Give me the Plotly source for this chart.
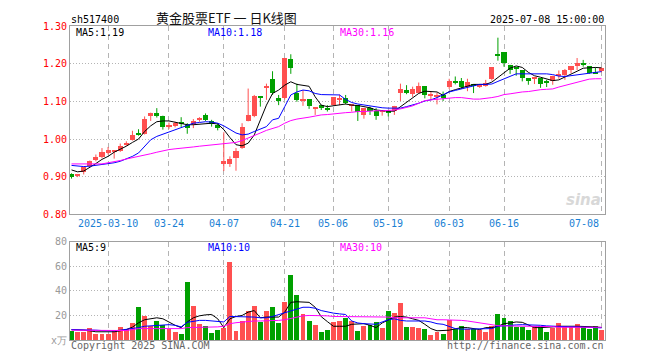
import plotly.graph_objects as go

# ---------------- data ----------------
dates = ["2025-02-28",
         "2025-03-03", "2025-03-04", "2025-03-05", "2025-03-06", "2025-03-07",
         "2025-03-10", "2025-03-11", "2025-03-12", "2025-03-13", "2025-03-14",
         "2025-03-17", "2025-03-18", "2025-03-19", "2025-03-20", "2025-03-21",
         "2025-03-24", "2025-03-25", "2025-03-26", "2025-03-27", "2025-03-28",
         "2025-03-31", "2025-04-01", "2025-04-02", "2025-04-03",
         "2025-04-07", "2025-04-08", "2025-04-09", "2025-04-10", "2025-04-11",
         "2025-04-14", "2025-04-15", "2025-04-16", "2025-04-17", "2025-04-18",
         "2025-04-21", "2025-04-22", "2025-04-23", "2025-04-24", "2025-04-25",
         "2025-04-28", "2025-04-29", "2025-04-30",
         "2025-05-06", "2025-05-07", "2025-05-08", "2025-05-09",
         "2025-05-12", "2025-05-13", "2025-05-14", "2025-05-15", "2025-05-16",
         "2025-05-19", "2025-05-20", "2025-05-21", "2025-05-22", "2025-05-23",
         "2025-05-26", "2025-05-27", "2025-05-28", "2025-05-29", "2025-05-30",
         "2025-06-03", "2025-06-04", "2025-06-05", "2025-06-06",
         "2025-06-09", "2025-06-10", "2025-06-11", "2025-06-12", "2025-06-13",
         "2025-06-16", "2025-06-17", "2025-06-18", "2025-06-19", "2025-06-20",
         "2025-06-23", "2025-06-24", "2025-06-25", "2025-06-26", "2025-06-27",
         "2025-06-30", "2025-07-01", "2025-07-02", "2025-07-03", "2025-07-04",
         "2025-07-07", "2025-07-08"]

open_ = [0.908, 0.902, 0.913, 0.928, 0.944, 0.952, 0.963, 0.967, 0.967, 0.986,
         0.997, 1.015, 1.013, 1.060, 1.070, 1.061, 1.032, 1.035, 1.043, 1.037,
         1.040, 1.051, 1.064, 1.048, 1.036, 0.934, 0.935, 0.950, 0.976, 1.049,
         1.061, 1.114, 1.136, 1.159, 1.108, 1.108, 1.213, 1.121, 1.101, 1.106,
         1.082, 1.090, 1.083, 1.090, 1.105, 1.108, 1.089, 1.090, 1.064, 1.082,
         1.075, 1.074, 1.074, 1.075, 1.121, 1.130, 1.119, 1.123, 1.140, 1.115,
         1.114, 1.118, 1.138, 1.154, 1.154, 1.138, 1.144, 1.138, 1.141, 1.160,
         1.225, 1.230, 1.197, 1.189, 1.182, 1.161, 1.160, 1.161, 1.154, 1.154,
         1.168, 1.170, 1.184, 1.194, 1.202, 1.193, 1.179, 1.180]
high = [0.909, 0.906, 0.925, 0.943, 0.959, 0.976, 0.979, 0.970, 0.988, 0.994,
        1.022, 1.026, 1.060, 1.070, 1.082, 1.062, 1.044, 1.046, 1.058, 1.042,
        1.053, 1.058, 1.068, 1.051, 1.042, 1.018, 0.954, 0.976, 1.042, 1.134,
        1.117, 1.114, 1.147, 1.180, 1.117, 1.215, 1.225, 1.147, 1.130, 1.106,
        1.085, 1.090, 1.090, 1.111, 1.118, 1.117, 1.092, 1.090, 1.082, 1.086,
        1.082, 1.077, 1.077, 1.088, 1.147, 1.143, 1.139, 1.150, 1.140, 1.125,
        1.123, 1.126, 1.160, 1.166, 1.162, 1.160, 1.144, 1.145, 1.157, 1.190,
        1.269, 1.230, 1.197, 1.192, 1.182, 1.161, 1.164, 1.161, 1.157, 1.168,
        1.182, 1.186, 1.194, 1.215, 1.210, 1.193, 1.190, 1.190]
low = [0.895, 0.899, 0.906, 0.925, 0.941, 0.949, 0.959, 0.948, 0.966, 0.982,
       0.996, 1.009, 1.012, 1.048, 1.057, 1.025, 1.027, 1.031, 1.032, 1.014,
       1.029, 1.046, 1.048, 1.033, 1.023, 0.915, 0.926, 0.916, 0.974, 1.047,
       1.058, 1.086, 1.104, 1.117, 1.090, 1.105, 1.173, 1.099, 1.088, 1.080,
       1.064, 1.077, 1.073, 1.089, 1.090, 1.092, 1.073, 1.048, 1.054, 1.064,
       1.051, 1.062, 1.060, 1.064, 1.101, 1.119, 1.112, 1.121, 1.108, 1.103,
       1.092, 1.101, 1.133, 1.145, 1.133, 1.127, 1.122, 1.136, 1.139, 1.155,
       1.208, 1.192, 1.173, 1.168, 1.153, 1.144, 1.146, 1.136, 1.138, 1.144,
       1.160, 1.157, 1.175, 1.183, 1.192, 1.173, 1.173, 1.177]
close = [0.900, 0.904, 0.925, 0.942, 0.952, 0.965, 0.970, 0.969, 0.982, 0.988,
         1.012, 1.013, 1.054, 1.069, 1.060, 1.032, 1.037, 1.042, 1.040, 1.029,
         1.049, 1.054, 1.050, 1.040, 1.029, 0.942, 0.948, 0.969, 1.032, 1.064,
         1.114, 1.111, 1.140, 1.121, 1.101, 1.215, 1.189, 1.104, 1.104, 1.089,
         1.085, 1.085, 1.077, 1.111, 1.108, 1.095, 1.092, 1.071, 1.082, 1.077,
         1.062, 1.077, 1.070, 1.088, 1.132, 1.123, 1.132, 1.140, 1.117, 1.118,
         1.117, 1.110, 1.153, 1.150, 1.138, 1.151, 1.141, 1.145, 1.150, 1.190,
         1.223, 1.202, 1.182, 1.186, 1.161, 1.153, 1.164, 1.146, 1.150, 1.166,
         1.170, 1.183, 1.194, 1.202, 1.199, 1.175, 1.175, 1.189]

ma5 = [0.918, 0.913, 0.915, 0.924, 0.935, 0.946, 0.954, 0.965, 0.972, 0.981,
       0.991, 1.000, 1.020, 1.035, 1.046, 1.048, 1.048, 1.045, 1.042, 1.038,
       1.038, 1.040, 1.042, 1.042, 1.040, 1.025, 1.004, 0.985, 0.982, 0.989,
       1.011, 1.051, 1.090, 1.121, 1.130, 1.143, 1.152, 1.145, 1.143, 1.140,
       1.112, 1.090, 1.086, 1.088, 1.092, 1.093, 1.090, 1.089, 1.086, 1.083,
       1.077, 1.075, 1.074, 1.074, 1.086, 1.099, 1.111, 1.121, 1.127, 1.125,
       1.125, 1.116, 1.126, 1.131, 1.136, 1.142, 1.145, 1.145, 1.145, 1.151,
       1.164, 1.177, 1.188, 1.194, 1.190, 1.177, 1.168, 1.164, 1.160, 1.155,
       1.157, 1.164, 1.171, 1.180, 1.188, 1.190, 1.190, 1.189]
ma10 = [0.930, 0.928, 0.927, 0.928, 0.930, 0.932, 0.935, 0.937, 0.941, 0.947,
        0.954, 0.963, 0.981, 0.998, 1.007, 1.013, 1.018, 1.025, 1.032, 1.038,
        1.042, 1.044, 1.046, 1.045, 1.042, 1.035, 1.025, 1.016, 1.011, 1.013,
        1.020, 1.026, 1.033, 1.051, 1.055, 1.086, 1.117, 1.125, 1.130, 1.128,
        1.121, 1.118, 1.118, 1.117, 1.117, 1.105, 1.097, 1.093, 1.090, 1.088,
        1.086, 1.083, 1.082, 1.082, 1.082, 1.086, 1.090, 1.095, 1.101, 1.104,
        1.110, 1.118, 1.125, 1.129, 1.133, 1.138, 1.142, 1.145, 1.145, 1.146,
        1.153, 1.160, 1.168, 1.173, 1.173, 1.173, 1.173, 1.173, 1.173, 1.171,
        1.167, 1.166, 1.168, 1.171, 1.173, 1.175, 1.176, 1.179]
ma30 = [0.934, 0.934, 0.934, 0.934, 0.934, 0.934, 0.937, 0.939, 0.943, 0.947,
        0.950, 0.953, 0.956, 0.961, 0.965, 0.969, 0.972, 0.974, 0.975, 0.977,
        0.979, 0.981, 0.983, 0.985, 0.987, 0.988, 0.989, 0.991, 0.996, 1.002,
        1.009, 1.016, 1.023, 1.029, 1.033, 1.042, 1.049, 1.053, 1.055, 1.058,
        1.061, 1.064, 1.065, 1.067, 1.068, 1.070, 1.071, 1.073, 1.073, 1.075,
        1.075, 1.075, 1.075, 1.077, 1.080, 1.083, 1.088, 1.095, 1.102, 1.104,
        1.106, 1.108, 1.109, 1.110, 1.110, 1.107, 1.106, 1.106, 1.107, 1.110,
        1.113, 1.118, 1.120, 1.123, 1.125, 1.126, 1.129, 1.131, 1.132, 1.133,
        1.138, 1.142, 1.146, 1.151, 1.155, 1.159, 1.160, 1.160]

volume = [7.5, 6.4, 6.4, 9.6, 5.1, 4.8, 4.8, 8.5, 10.4, 9.3,
          13.6, 27.2, 19.7, 11.7, 15.2, 12.0, 9.3, 6.4, 4.8, 47.2,
          28.0, 13.3, 11.2, 5.6, 8.5, 10.1, 64.0, 7.5, 15.2, 23.5,
          27.7, 14.7, 23.5, 26.7, 13.9, 30.7, 53.3, 36.8, 21.5, 16.0,
          12.0, 6.4, 8.0, 14.5, 15.2, 17.9, 15.2, 7.5, 11.2, 12.5,
          14.7, 10.1, 24.0, 21.9, 30.4, 10.7, 10.7, 9.6, 8.8, 4.0,
          6.4, 5.3, 16.5, 9.1, 11.5, 9.3, 9.1, 8.0, 6.9, 11.2,
          21.6, 17.9, 16.0, 10.4, 10.4, 8.3, 11.2, 11.5, 6.7, 10.1,
          14.1, 11.7, 10.7, 12.8, 11.2, 9.1, 11.2, 8.0]
vma5 = [8.5, 8.5, 8.0, 7.5, 6.7, 6.7, 6.7, 6.7, 7.5, 8.5,
        10.5, 14.0, 16.5, 17.5, 18.1, 17.3, 14.7, 12.0, 10.1, 14.7,
        18.1, 19.7, 20.5, 20.8, 17.3, 10.1, 17.3, 19.2, 20.0, 22.7,
        24.0, 18.1, 18.7, 18.7, 18.7, 22.7, 30.7, 31.2, 31.2, 30.7,
        26.7, 19.0, 15.0, 11.2, 11.2, 11.2, 12.8, 13.3, 13.3, 12.0,
        10.1, 13.9, 16.5, 18.7, 19.2, 18.7, 17.3, 16.0, 12.8, 9.3,
        7.5, 7.5, 8.0, 9.1, 10.1, 10.1, 9.3, 8.5, 10.1, 10.1,
        11.2, 13.3, 13.9, 14.7, 14.4, 12.0, 10.1, 10.1, 10.1, 10.7,
        11.2, 11.5, 11.2, 11.2, 11.2, 11.2, 10.7, 10.1]
vma10 = [8.5, 8.5, 8.3, 8.0, 8.0, 7.7, 7.5, 7.5, 8.0, 8.5,
         9.3, 10.1, 11.2, 11.5, 11.7, 12.0, 12.5, 12.0, 10.7, 14.4,
         15.5, 16.0, 16.0, 15.5, 15.2, 14.7, 19.2, 19.2, 19.2, 19.2,
         18.7, 18.1, 18.1, 19.2, 20.8, 21.9, 23.5, 25.3, 26.7, 26.7,
         25.9, 24.0, 22.7, 21.9, 21.3, 20.8, 15.5, 13.9, 13.3, 13.3,
         12.8, 14.7, 16.5, 17.3, 16.0, 15.5, 15.5, 15.5, 15.5, 14.7,
         13.3, 12.8, 11.2, 9.3, 8.8, 8.8, 8.8, 8.8, 8.8, 9.3,
         11.2, 11.7, 12.0, 12.3, 12.5, 12.5, 12.5, 12.0, 11.5, 11.2,
         10.7, 10.7, 10.7, 10.7, 10.7, 10.4, 10.1, 9.9]
vma30 = [8.0, 8.0, 8.0, 8.0, 7.7, 7.7, 7.7, 7.7, 7.7, 7.7,
         8.5, 9.3, 9.3, 9.3, 9.3, 9.3, 9.3, 9.3, 9.3, 10.1,
         10.1, 10.1, 10.1, 10.1, 10.7, 11.2, 13.3, 14.1, 14.7, 15.2,
         15.5, 15.5, 15.5, 15.7, 16.0, 16.5, 17.6, 18.7, 19.7, 20.0,
         20.0, 20.0, 19.7, 19.2, 19.2, 19.2, 19.2, 19.2, 19.2, 19.2,
         19.2, 19.2, 18.7, 18.1, 18.1, 18.1, 18.1, 18.1, 18.1, 17.3,
         16.5, 16.5, 16.5, 16.5, 16.0, 15.5, 14.7, 13.9, 12.8, 12.0,
         11.7, 11.5, 11.5, 11.5, 11.5, 11.5, 11.5, 11.5, 11.5, 10.9,
         10.4, 10.4, 10.4, 10.4, 10.4, 10.4, 10.4, 10.4]

tick_dates = ["2025-03-10", "2025-03-24", "2025-04-07", "2025-04-21", "2025-05-06",
              "2025-05-19", "2025-06-03", "2025-06-16", "2025-07-08"]
tick_labels = ["2025-03-10", "03-24", "04-07", "04-21", "05-06",
               "05-19", "06-03", "06-16", "07-08"]
price_ticks = [0.80, 0.90, 1.00, 1.10, 1.20, 1.30]
vol_ticks = [0, 20, 40, 60, 80]
vol_tick_text = ["x万", "20", "40", "60", "80"]

title_code = "sh517400"
title_name = "黄金股票ETF 一 日K线图"
title_time = "2025-07-08 15:00:00"
price_legend = ["MA5:1.19", "MA10:1.18", "MA30:1.16"]
vol_legend = ["MA5:9", "MA10:10", "MA30:10"]
footer_left = "Copyright 2025 SINA.COM"
footer_right = "http://finance.sina.com.cn"

# ---------------- styling ----------------
RED = "#ff5050"
GREEN = "#00a000"
MONO = "DejaVu Sans Mono"
GRID = "#b4b4b4"
BORDER = "#a0a0a0"
ma_colors = ["#000000", "#0000ff", "#ff00ff"]

n = len(dates)
idx = list(range(n))
up = [c >= o for o, c in zip(open_, close)]
colors = [RED if u else GREEN for u in up]
body_base = [min(o, c) for o, c in zip(open_, close)]
body_h = [max(abs(c - o), 0.0027) for o, c in zip(open_, close)]

fig = go.Figure()

# wicks
for flag, col in ((True, RED), (False, GREEN)):
    wx, wy = [], []
    for i in idx:
        if up[i] == flag:
            wx += [i, i, None]
            wy += [low[i], high[i], None]
    fig.add_trace(go.Scatter(x=wx, y=wy, mode="lines", line=dict(color=col, width=1),
                             hoverinfo="skip", showlegend=False, xaxis="x", yaxis="y"))

# bodies
fig.add_trace(go.Bar(x=idx, y=body_h, base=body_base, width=0.83,
                     marker=dict(color=colors, line=dict(width=0)),
                     showlegend=False, xaxis="x", yaxis="y"))

# price MAs
for arr, col in zip((ma5, ma10, ma30), ma_colors):
    fig.add_trace(go.Scatter(x=idx, y=arr, mode="lines", line=dict(color=col, width=1),
                             showlegend=False, xaxis="x", yaxis="y"))

# volume
fig.add_trace(go.Bar(x=idx, y=volume, width=0.8,
                     marker=dict(color=colors, line=dict(width=0)),
                     showlegend=False, xaxis="x2", yaxis="y2"))
for arr, col in zip((vma5, vma10, vma30), ma_colors):
    fig.add_trace(go.Scatter(x=idx, y=arr, mode="lines", line=dict(color=col, width=1),
                             showlegend=False, xaxis="x2", yaxis="y2"))

tick_idx = [dates.index(d) for d in tick_dates]
xr = [-0.25, 87.58]

xcommon = dict(range=xr, tickvals=tick_idx, showticklabels=False, ticks="",
               showgrid=True, gridcolor=GRID, griddash="5px,4px", gridwidth=1,
               showline=True, mirror=True, linecolor=BORDER, linewidth=1,
               zeroline=False, fixedrange=True)

# the page places the figure 8px from the window's top-left corner
fig.update_layout(
    width=652, height=352,
    margin=dict(l=62, r=55, t=12, b=20),
    paper_bgcolor="white", plot_bgcolor="white",
    barmode="overlay", bargap=0,
    showlegend=False,
    xaxis=dict(domain=[0, 1], anchor="y", **xcommon),
    xaxis2=dict(domain=[0, 1], anchor="y2", **xcommon),
    yaxis=dict(domain=[0.4, 1], anchor="x", range=[0.80, 1.30],
               tickvals=price_ticks, ticktext=["%.2f" % v for v in price_ticks],
               tickfont=dict(family=MONO, size=10, color="#ff0000"), ticks="",
               showgrid=True, gridcolor=GRID, griddash="1px,2px", gridwidth=1,
               showline=True, mirror=True, linecolor=BORDER, linewidth=1,
               zeroline=False, fixedrange=True),
    yaxis2=dict(domain=[0, 0.3125], anchor="x2", range=[0, 80],
                tickvals=vol_ticks, ticktext=vol_tick_text,
                tickfont=dict(family=MONO, size=10, color="#999999"), ticks="",
                showgrid=True, gridcolor=GRID, griddash="1px,2px", gridwidth=1,
                showline=True, mirror=True, linecolor=BORDER, linewidth=1,
                zeroline=False, fixedrange=True),
)


def py(Y):
    return (340 - Y) / 320.0


def px(X):
    return (X - 70) / 527.0


def note(text, x, y, xanchor, font, xref="paper", xshift=0):
    return dict(text=text, x=x, y=y, xref=xref, yref="paper", xanchor=xanchor,
                yanchor="middle", showarrow=False, borderpad=0, xshift=xshift, font=font)


ann = []
ann.append(note(title_code, 0, py(13), "left", dict(family=MONO, size=10, color="#000")))
ann.append(note(title_name, px(224), py(11), "center",
                dict(family="Noto Sans CJK SC", size=13, color="#111")))
ann.append(note(title_time, 1, py(13), "right", dict(family=MONO, size=10, color="#000")))
for txt, X, col in zip(price_legend, (75, 205, 335), ma_colors):
    ann.append(note(txt, px(X), py(27), "left", dict(family=MONO, size=10, color=col)))
for txt, X, col in zip(vol_legend, (75, 205, 335), ma_colors):
    ann.append(note(txt, px(X), py(246), "left", dict(family=MONO, size=10, color=col)))
for k, (ti, tl) in enumerate(zip(tick_idx, tick_labels)):
    last = k == len(tick_idx) - 1
    ann.append(note(tl, ti, py(221), "right" if last else "center",
                    dict(family=MONO, size=10, color="#1a7fd4"), xref="x",
                    xshift=-1 if last else 0))
ann.append(note(footer_left, 0, py(346), "left", dict(family=MONO, size=10, color="#666")))
ann.append(note(footer_right, 1, py(346), "right", dict(family=MONO, size=10, color="#666")))
ann.append(note("<b><i>sina</i></b>", px(594), py(197), "right",
                dict(family="DejaVu Sans", size=15, color="#d8d8d8")))
fig.update_layout(annotations=ann)

fig.write_html("out.html")
